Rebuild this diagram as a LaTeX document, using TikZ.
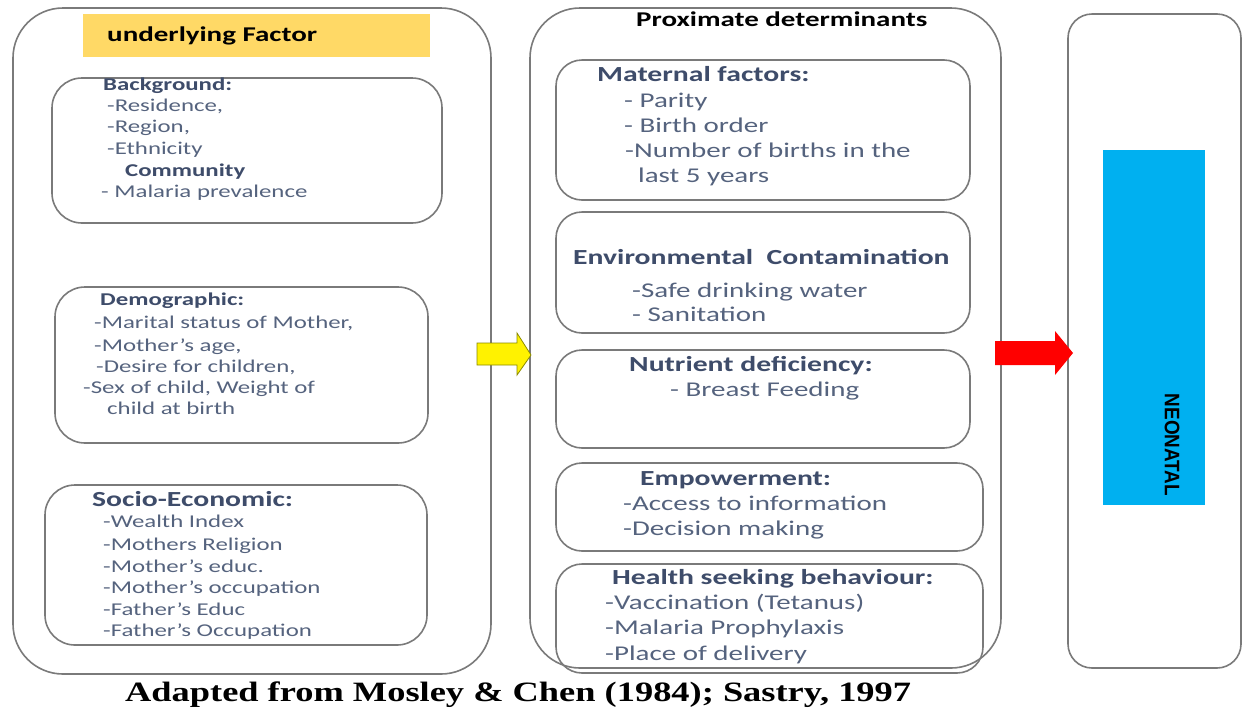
\documentclass[tikz,border=0pt]{standalone}
\usepackage{fontspec}
\setmainfont{Carlito}[FakeStretch=1.38]
\newfontfamily\capfont{Liberation Serif}[FakeStretch=1.3]
\newfontfamily\tagfont{Liberation Sans}[FakeStretch=0.9]
\usetikzlibrary{calc}
\definecolor{framec}{HTML}{7A7A7A}
\definecolor{headc}{HTML}{3E4C6A}
\definecolor{itemc}{HTML}{55637E}
\definecolor{gold}{HTML}{FFD966}
\definecolor{sky}{HTML}{00B0F0}
\definecolor{olive}{HTML}{8A8A00}
\tikzset{
  x=1pt, y=-1pt,
  frame/.style={draw=framec, line width=1.6pt, rounded corners=#1},
  frame/.default=28pt,
  line/.style={anchor=west, inner sep=0pt, text height=0.8em, text depth=0em},
  itm/.style={line, text=itemc, font=\fontsize{18}{18}\selectfont},
  mitm/.style={line, text=itemc, font=\fontsize{21}{21}\selectfont},
  hd/.style={line, text=headc, font=\bfseries\fontsize{18}{18}\selectfont},
  mhd/.style={line, text=headc, font=\bfseries\fontsize{21.5}{21.5}\selectfont},
  ttl/.style={line, text=black, font=\bfseries\fontsize{21}{21}\selectfont},
}
\begin{document}
\begin{tikzpicture}
\useasboundingbox (0,0) rectangle (1246,713);
\fill[white] (0,0) rectangle (1246,713);

% ---- underlying factors column ----
\draw[frame=50pt] (13,8) rectangle (491,674);
\node[coordinate] (L) at (491,355) {};
\fill[gold] (83,14) rectangle (430,57);
\node[ttl] (ttlL) at (107,37) {underlying Factor};

\draw[frame=30pt] (52,78) rectangle (442,223);
\node[hd] (bg) at (103,86) {Background:};
\node[itm] (bg1) at (107,107) {-Residence,};
\node[itm] (bg2) at (107,128) {-Region,};
\node[itm] (bg3) at (107,150) {-Ethnicity};
\node[hd] (com) at (125,172) {Community};
\node[itm] (com1) at (101,193) {- Malaria prevalence};

\draw[frame=30pt] (55,287) rectangle (428,443);
\node[hd] (dem) at (100,301) {Demographic:};
\node[itm] (dem1) at (94,324) {-Marital status of Mother,};
\node[itm] (dem2) at (94,347) {-Mother’s age,};
\node[itm] (dem3) at (96,368) {-Desire for children,};
\node[itm] (dem4) at (83,389) {-Sex of child, Weight of};
\node[itm] (dem5) at (107,410) {child at birth};

\draw[frame=30pt] (45,485) rectangle (427,645);
\node[mhd] (soc) at (92,502) {Socio-Economic:};
\node[itm] (soc1) at (103,523) {-Wealth Index};
\node[itm] (soc2) at (103,546) {-Mothers Religion};
\node[itm] (soc3) at (103,568) {-Mother’s educ.};
\node[itm] (soc4) at (103,589) {-Mother’s occupation};
\node[itm] (soc5) at (103,611) {-Father’s Educ};
\node[itm] (soc6) at (103,632) {-Father’s Occupation};

% ---- proximate determinants column ----
\draw[frame=50pt] (530,8) rectangle (1001,668);
\node[coordinate] (ML) at (530,355) {};
\node[coordinate] (MR) at (1001,355) {};
\node[ttl] (ttlM) at (636,22) {Proximate determinants};

\draw[frame=26pt] (556,60) rectangle (970,200);
\node[mhd] (mat) at (597,77) {Maternal factors:};
\node[mitm] (mat1) at (624,103) {- Parity};
\node[mitm] (mat2) at (624,128) {- Birth order};
\node[mitm] (mat3) at (625,153) {-Number of births in the};
\node[mitm] (mat4) at (638,178) {last 5 years};

\draw[frame=26pt] (556,212) rectangle (970,333);
\node[mhd] (env) at (573,260) {Environmental\ \ Contamination};
\node[mitm] (env1) at (632,293) {-Safe drinking water};
\node[mitm] (env2) at (632,317) {- Sanitation};

\draw[frame=26pt] (556,350) rectangle (970,448);
\node[mhd] (nut) at (629,367) {Nutrient deficiency:};
\node[mitm] (nut1) at (670,392) {- Breast Feeding};

\draw[frame=26pt] (556,463) rectangle (983,551);
\node[mhd] (emp) at (640,481) {Empowerment:};
\node[mitm] (emp1) at (623,506) {-Access to information};
\node[mitm] (emp2) at (623,531) {-Decision making};

\draw[frame=26pt] (556,564) rectangle (983,673);
\node[mhd] (hsb) at (612,580) {Health seeking behaviour:};
\node[mitm] (hsb1) at (605,605) {-Vaccination (Tetanus)};
\node[mitm] (hsb2) at (605,630) {-Malaria Prophylaxis};
\node[mitm] (hsb3) at (605,656) {-Place of delivery};

% ---- outcome column ----
\draw[frame=24pt] (1068,14) rectangle (1241,668);
\node[coordinate] (RL) at (1068,353) {};
\fill[sky] (1103,150) rectangle (1205,505);
\node[rotate=-90, inner sep=0pt, text=black,
      font=\tagfont\bfseries\fontsize{21}{21}\selectfont] (neo) at (1172,445) {NEONATAL};

% ---- block arrows between the columns ----
\filldraw[fill=yellow, draw=olive, line width=0.8pt, line join=miter]
  ($(L)+(-14,-12)$) -- ($(ML)+(-13,-12)$) -- ($(ML)+(-13,-22)$) -- ($(ML)+(1,0)$)
  -- ($(ML)+(-13,20)$) -- ($(ML)+(-13,10)$) -- ($(L)+(-14,10)$) -- cycle;
\fill[red]
  ($(MR)+(-6,-14)$) -- ($(RL)+(-13,-12)$) -- ($(RL)+(-13,-22)$) -- ($(RL)+(5,0)$)
  -- ($(RL)+(-13,22)$) -- ($(RL)+(-13,12)$) -- ($(MR)+(-6,10)$) -- cycle;

% ---- source line ----
\node[anchor=west, inner sep=0pt, text=black,
      font=\capfont\bfseries\fontsize{28}{28}\selectfont] (src) at (125,695)
  {Adapted from Mosley \& Chen (1984); Sastry, 1997};
\end{tikzpicture}
\end{document}
